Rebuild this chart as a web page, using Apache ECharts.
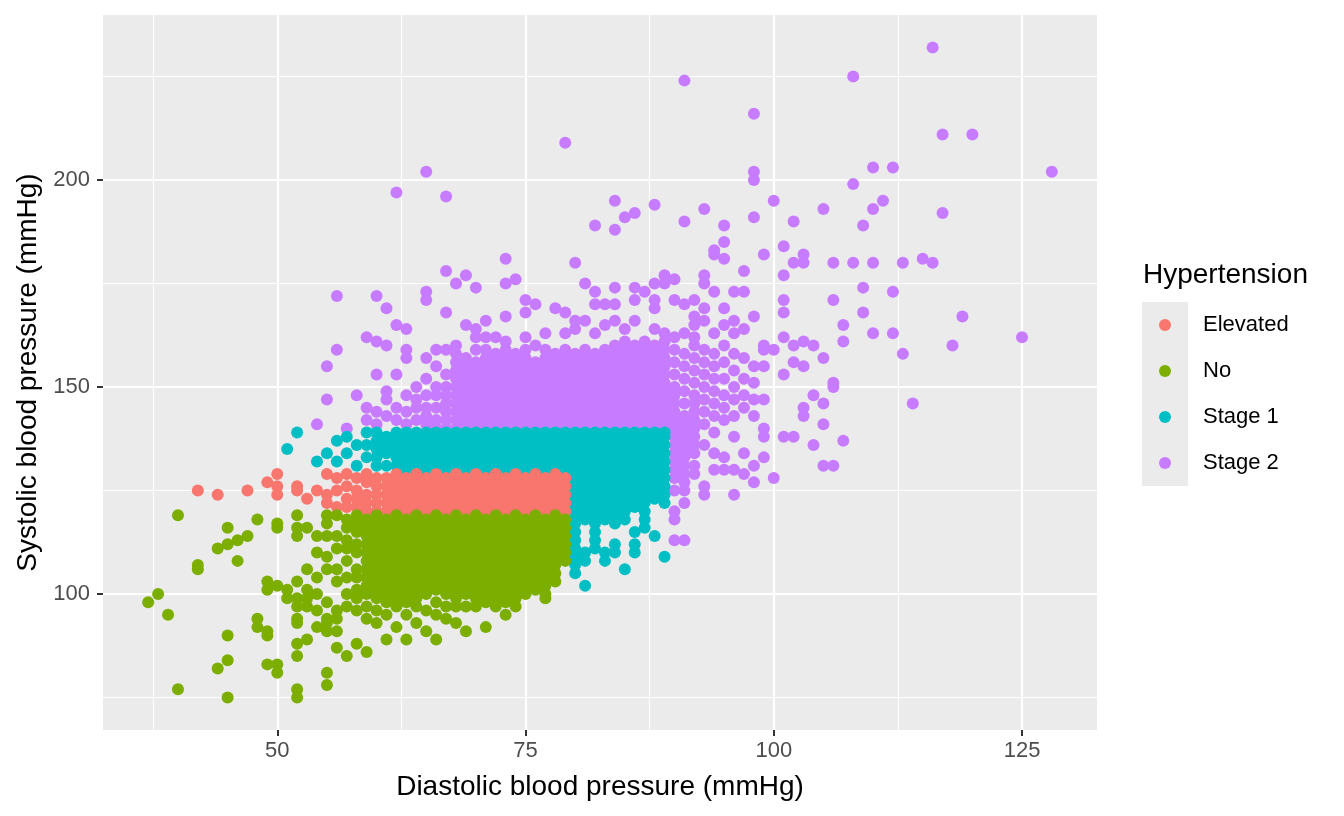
<!DOCTYPE html>
<html><head><meta charset="utf-8">
<script src="https://cdn.jsdelivr.net/npm/echarts@6/dist/echarts.min.js"></script>
<style>html,body{margin:0;padding:0;background:#fff}#c{width:1344px;height:816px}</style>
</head><body><div id="c"></div>
<script>
const categories = ['Elevated', 'No', 'Stage 1', 'Stage 2'];
const catColors = ['#F8766D', '#7CAE00', '#00BFC4', '#C77CFF'];
const xTicks = [50, 75, 100, 125];
const yTicks = [100, 150, 200];
const xMinor = [37.5, 62.5, 87.5, 112.5];
const yMinor = [75, 125, 175, 225];

// Each entry: [diastolic, [systolic values...]]
const noCols = [
  [37,[98]],[38,[100]],[39,[95]],[40,[119,77]],[42,[107,106]],[44,[111,82]],
  [45,[116,112,90,84,75]],[46,[113,108]],[47,[114]],[48,[118,94,92]],
  [49,[103,101,91,90,83]],[50,[117,116,102,83,81]],[51,[101,99]],
  [52,[119,116,114,103,99,97,94,93,88,85,77,75]],
  [53,[116,106,101,99,97,89]],
  [54,[114,110,104,100,96,92]],
  [55,[119,117,114,109,106,98,94,93,91,81,78]],
  [56,[119,114,111,106,103,96,94,91,87]],
  [57,[118,116,113,111,108,104,100,97,85]],
  [58,[119,117,115,112,110,106,104,101,99,96,88]],
  [59,[118,116,114,112,110,108,106,104,102,100,97,94,86]],
  [60,[119,117,115,113,111,109,107,105,103,101,99,96,93]],
  [61,[118,116,114,112,110,108,106,104,102,100,98,95,89]],
  [62,[119,117,115,113,111,109,107,105,103,101,99,97,92]],
  [63,[118,116,114,112,110,108,106,104,102,100,98,95,89]],
  [64,[119,117,115,113,111,109,107,105,103,101,99,97,93]],
  [65,[118,116,114,112,110,108,106,104,102,100,96,91]],
  [66,[119,117,115,113,111,109,107,105,103,101,98,95,89]],
  [67,[118,116,114,112,110,108,106,104,102,100,97,94]],
  [68,[119,117,115,113,111,109,107,105,103,101,99,97,93]],
  [69,[118,116,114,112,110,108,106,104,102,100,97,91]],
  [70,[119,117,115,113,111,109,107,105,103,101,99,97]],
  [71,[118,116,114,112,110,108,106,104,102,100,98,92]],
  [72,[119,117,115,113,111,109,107,105,103,101,99,97]],
  [73,[118,116,114,112,110,108,106,104,102,100,98,95]],
  [74,[119,117,115,113,111,109,107,105,103,101,99,97]],
  [75,[118,116,114,112,110,108,106,104,102,100]],
  [76,[119,117,115,113,111,109,107,105,103,101]],
  [77,[118,116,114,112,110,108,106,104,102,100,99]],
  [78,[119,117,115,113,111,109,107,105,103]],
  [79,[118,116,114,112,110,108]]
];

const elevatedCols = [
  [42,[125]],[44,[124]],[47,[125]],[49,[127]],[50,[129,126,124]],[52,[126,125]],
  [53,[123]],[54,[125]],[55,[129,124,122]],[56,[128,125,121]],[57,[129,126,123,121]],
  [58,[128,125,123,121]],[59,[129,127,124,122,120]],[60,[128,126,124,122,120]],
  [61,[128,126,124,122,120]],[62,[129,127,125,123,121]],[63,[128,126,124,122,120]],
  [64,[129,127,125,123,121]],[65,[128,126,124,122,120]],[66,[129,127,125,123,121]],
  [67,[128,126,124,122,120]],[68,[129,127,125,123,121]],[69,[128,126,124,122,120]],
  [70,[129,127,125,123,121]],[71,[128,126,124,122,120]],[72,[129,127,125,123,121]],
  [73,[128,126,124,122,120]],[74,[129,127,125,123,121]],[75,[128,126,124,122,120]],
  [76,[129,127,125,123,121]],[77,[128,126,124,122,120]],[78,[129,127,125,123,121]],
  [79,[128,126,124,122,120]]
];

const stage1Cols = [
  [51,[135]],[52,[139]],[54,[132]],[55,[134]],[56,[137,132]],[57,[138,134]],[58,[136,131]],
  [59,[139,136,133]],[60,[139,137,135,133,131]],[61,[138,136,134,131]],[62,[139,137,135,133,131]],
  [63,[139,138,136,134,132,130]],[64,[139,137,135,133,131]],[65,[139,138,136,134,132,130]],
  [66,[139,137,135,133,131]],[67,[139,138,136,134,132,130]],[68,[139,137,135,133,131]],
  [69,[139,138,136,134,132,130]],[70,[139,137,135,133,131]],[71,[139,138,136,134,132,130]],
  [72,[139,137,135,133,131]],[73,[139,138,136,134,132,130]],[74,[139,137,135,133,131]],
  [75,[139,138,136,134,132,130]],[76,[139,137,135,133,131]],[77,[139,138,136,134,132,130]],
  [78,[139,137,135,133,131]],[79,[139,138,136,134,132,130]],
  [80,[139,137,135,133,131,129,127,125,123,121,119,117,115,113,111,109,107,105]],
  [81,[139,138,136,134,132,130,128,126,124,122,120,118,110,108,102]],
  [82,[139,137,135,133,131,129,127,125,123,121,119,117,115,113,111]],
  [83,[139,138,136,134,132,130,128,126,124,122,120,118,110,108]],
  [84,[139,137,135,133,131,129,127,125,123,121,119,117,112,110]],
  [85,[139,138,136,134,132,130,128,126,124,122,120,118,106]],
  [86,[139,137,135,133,131,129,127,125,123,121,115,112,110]],
  [87,[139,138,136,134,132,130,128,126,124,122,120,118,116]],
  [88,[139,137,135,133,131,129,127,125,123,114]],
  [89,[139,138,136,134,132,130,128,126,124,122,109]]
];

const stage2Cols = [
  [54,[141]],[55,[155,147]],[56,[172,159]],[57,[140]],[58,[148]],[59,[162,145,142]],
  [60,[172,161,153,144,141]],[61,[169,160,149,147,143]],[62,[197,165,153,145,142]],
  [63,[164,159,157,148,144,141]],[64,[150,147,145,142]],
  [65,[202,173,171,157,152,148,145,143,141]],[66,[159,155,150,148,145,142,140]],
  [67,[196,178,168,159,153,150,148,146,144,142,140]],
  [68,[175,160,158,156,154,152,150,148,146,144,142,140]],
  [69,[177,165,157,155,153,151,149,147,145,143,141]],
  [70,[174,164,162,159,156,154,152,150,148,146,144,142,140]],
  [71,[166,162,159,157,155,153,151,149,147,145,143,141]],
  [72,[162,158,156,154,152,150,148,146,144,142,140]],
  [73,[181,175,167,161,159,157,155,153,151,149,147,145,143,141]],
  [74,[176,158,156,154,152,150,148,146,144,142,140]],
  [75,[171,168,162,159,157,155,153,151,149,147,145,143,141]],
  [76,[170,160,156,154,152,150,148,146,144,142,140]],
  [77,[163,159,157,155,153,151,149,147,145,143,141]],
  [78,[169,158,156,154,152,150,148,146,144,142,140]],
  [79,[209,168,163,159,157,155,153,151,149,147,145,143,141]],
  [80,[180,166,164,158,156,154,152,150,148,146,144,142,140]],
  [81,[175,166,159,157,155,153,151,149,147,145,143,141]],
  [82,[189,173,170,163,158,156,154,152,150,148,146,144,142,140]],
  [83,[170,165,159,157,155,153,151,149,147,145,143,141]],
  [84,[195,188,174,170,166,160,158,156,154,152,150,148,146,144,142,140]],
  [85,[191,164,161,159,157,155,153,151,149,147,145,143,141]],
  [86,[192,174,171,166,160,158,156,154,152,150,148,146,144,142,140]],
  [87,[173,161,159,157,155,153,151,149,147,145,143,141]],
  [88,[194,175,171,169,164,160,158,156,154,152,150,148,146,144,142,140]],
  [89,[177,175,163,161,159,157,155,153,151,149,147,145,143,141]],
  [90,[176,171,162,159,156,153,150,148,146,144,142,140,138,136,134,132,130,128,125,120,118,113]],
  [91,[224,190,170,163,158,155,152,149,146,143,141,139,137,135,133,131,129,127,125,122,113]],
  [92,[171,167,165,162,160,157,154,151,148,146,144,142,140,138,136,134,131,129]],
  [93,[193,177,175,169,166,159,156,153,150,147,144,141,136,126,124]],
  [94,[183,182,173,163,158,155,152,149,146,143,139,134,130]],
  [95,[189,185,181,169,165,160,156,152,148,145,142,133,130]],
  [96,[173,166,163,158,154,150,147,143,138,130,124]],
  [97,[178,173,164,157,152,148,145,134,129]],
  [98,[216,202,200,191,167,155,151,147,143,131,127]],
  [99,[182,160,159,155,147,140,138,133]],
  [100,[195,159,128]],
  [101,[184,177,171,168,162,153,138]],
  [102,[190,180,160,156,138]],
  [103,[182,180,161,155,145,143]],
  [104,[160,148,136]],
  [105,[193,157,146,141,131]],
  [106,[180,171,151,150,131]],
  [107,[165,161,137]],
  [108,[225,199,180]],
  [109,[189,174,168]],
  [110,[203,193,180,163]],
  [111,[195]],
  [112,[203,173,163]],
  [113,[180,158]],
  [114,[146]],
  [115,[181]],
  [116,[232,180]],
  [117,[211,192]],
  [118,[160]],
  [119,[167]],
  [120,[211]],
  [125,[162]],
  [128,[202]]
];

function toPoints(cols) {
  const out = [];
  cols.forEach(function (c) { c[1].forEach(function (y) { out.push([c[0], y]); }); });
  return out;
}

const FONT = '"Liberation Sans", Arial, Helvetica, sans-serif';
const chart = echarts.init(document.getElementById('c'), null, {renderer: 'canvas'});

const gridLines = [];
xMinor.forEach(v => gridLines.push({xAxis: v, lineStyle: {color: '#fff', width: 1.1, type: 'solid'}}));
yMinor.forEach(v => gridLines.push({yAxis: v, lineStyle: {color: '#fff', width: 1.1, type: 'solid'}}));
xTicks.forEach(v => gridLines.push({xAxis: v, lineStyle: {color: '#fff', width: 2.2, type: 'solid'}}));
yTicks.forEach(v => gridLines.push({yAxis: v, lineStyle: {color: '#fff', width: 2.2, type: 'solid'}}));

function scatterSeries(name, cols, color) {
  return {
    name: name, type: 'scatter', z: 3, symbol: 'circle', symbolSize: 12,
    itemStyle: {color: color, opacity: 1},
    data: toPoints(cols)
  };
}

chart.setOption({
  animation: false,
  backgroundColor: '#fff',
  grid: {left: 103, right: 247, top: 15, bottom: 86, show: true, backgroundColor: '#EBEBEB', borderWidth: 0},
  xAxis: {
    type: 'value', min: 32.45, max: 132.55,
    name: 'Diastolic blood pressure (mmHg)', nameLocation: 'middle', nameGap: 43,
    nameTextStyle: {fontSize: 28, color: '#000', fontFamily: FONT},
    axisLine: {show: false},
    axisTick: {show: true, customValues: xTicks, length: 6, lineStyle: {color: '#333', width: 2}},
    axisLabel: {customValues: xTicks, fontSize: 22, color: '#4D4D4D', margin: 10, fontFamily: FONT},
    splitLine: {show: false}
  },
  yAxis: {
    type: 'value', min: 67.15, max: 239.85,
    name: 'Systolic blood pressure (mmHg)', nameLocation: 'middle', nameGap: 60,
    nameTextStyle: {fontSize: 28, color: '#000', fontFamily: FONT},
    axisLine: {show: false},
    axisTick: {show: true, customValues: yTicks, length: 6, lineStyle: {color: '#333', width: 2}},
    axisLabel: {customValues: yTicks, fontSize: 22, color: '#4D4D4D', margin: 13, fontFamily: FONT},
    splitLine: {show: false}
  },
  legend: {
    data: categories, orient: 'vertical', left: 1159, top: 313, padding: 0, z: 10,
    itemWidth: 12, itemHeight: 12, itemGap: 22, icon: 'circle',
    textStyle: {fontSize: 22, color: '#000', lineHeight: 24, padding: [0, 0, 0, 27], fontFamily: FONT},
    selectedMode: false
  },
  graphic: [
    {type: 'rect', left: 1142, top: 302, z: 0, shape: {width: 46, height: 184}, style: {fill: '#EBEBEB'}},
    {type: 'text', left: 1143, top: 261, z: 1, style: {text: 'Hypertension', fontSize: 28, fill: '#000', fontFamily: FONT}}
  ],
  series: [
    {
      name: 'grid', type: 'scatter', z: 1, data: [], silent: true,
      markLine: {silent: true, z: 1, symbol: ['none', 'none'], label: {show: false}, animation: false, data: gridLines}
    },
    scatterSeries('Stage 2', stage2Cols, catColors[3]),
    scatterSeries('Stage 1', stage1Cols, catColors[2]),
    scatterSeries('Elevated', elevatedCols, catColors[0]),
    scatterSeries('No', noCols, catColors[1])
  ]
});
</script>
</body></html>
